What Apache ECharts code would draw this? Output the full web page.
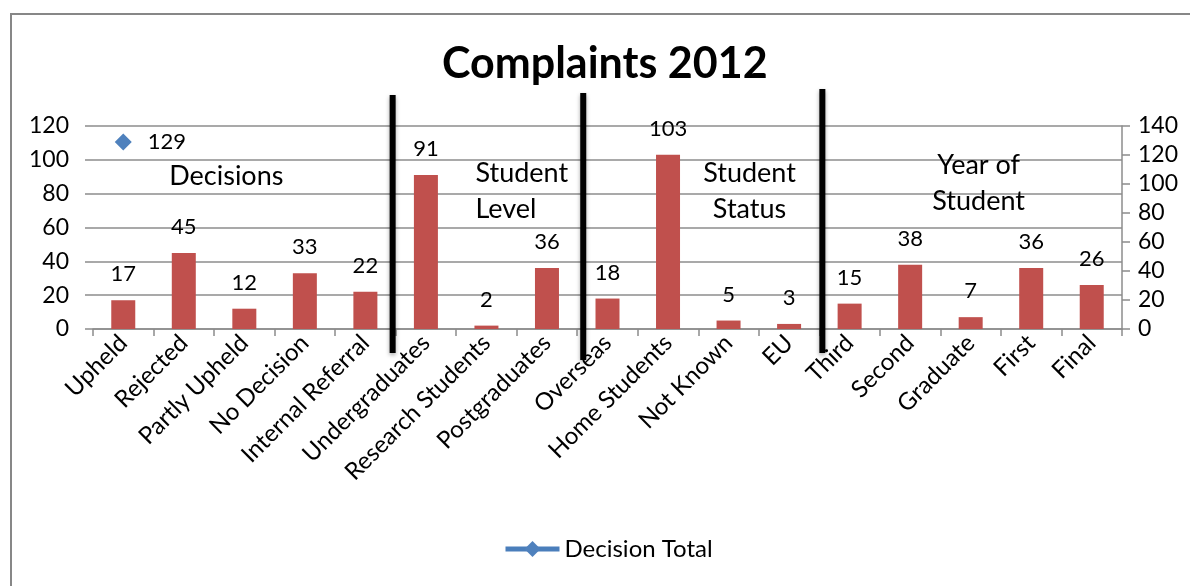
<!DOCTYPE html>
<html>
<head>
<meta charset="utf-8">
<script src="https://cdn.jsdelivr.net/npm/echarts@6/dist/echarts.min.js"></script>
<style>
html,body{margin:0;padding:0;background:#fff;}
#chart{width:1190px;height:586px;}
</style>
</head>
<body>
<div id="chart"></div>
<script>
const categories = ['Upheld','Rejected','Partly Upheld','No Decision','Internal Referral','Undergraduates','Research Students','Postgraduates','Overseas','Home Students','Not Known','EU','Third','Second','Graduate','First','Final'];
const complaintCounts = [17,45,12,33,22,91,2,36,18,103,5,3,15,38,7,36,26];
const decisionTotal = [129,null,null,null,null,null,null,null,null,null,null,null,null,null,null,null,null];
const leftTicks = {min:0, max:120, interval:20};
const rightTicks = {min:0, max:140, interval:20};
const groupBoundaries = [5, 8, 12];
const groupNames = ['Decisions', 'Student\nLevel', 'Student\nStatus', 'Year of\nStudent'];

const FONT = 'Lato, "Open Sans", sans-serif';
const chart = echarts.init(document.getElementById('chart'));
const option = {
  animation: false,
  backgroundColor: '#fff',
  textStyle: {fontFamily: FONT},
  title: {
    text: 'Complaints 2012',
    left: 437,
    top: 38,
    textStyle: {fontFamily: FONT, fontSize: 43, fontWeight: 'bold', color: '#000'}
  },
  legend: {
    bottom: 20,
    left: 498,
    itemWidth: 54,
    itemHeight: 20,
    itemGap: 4,
    lineStyle: {width: 5},
    textStyle: {fontFamily: FONT, fontSize: 24, color: '#000'},
    data: ['Decision Total']
  },
  grid: {left: 93, right: 68, top: 126, bottom: 257, containLabel: false},
  xAxis: {
    type: 'category',
    data: categories,
    axisLine: {lineStyle: {color: '#8c8c8c', width: 1.5}},
    axisTick: {show: true, length: 7, lineStyle: {color: '#8c8c8c', width: 1.5}},
    axisLabel: {rotate: 45, fontSize: 24, color: '#000', fontFamily: FONT, interval: 0, margin: 10}
  },
  yAxis: [
    {
      type: 'value', min: leftTicks.min, max: leftTicks.max, interval: leftTicks.interval,
      axisLine: {show: false},
      axisTick: {show: true, length: 8, lineStyle: {color: '#8c8c8c', width: 1.5}},
      splitLine: {lineStyle: {color: '#8c8c8c', width: 1.5}},
      axisLabel: {fontSize: 23, color: '#000', fontFamily: FONT, margin: 24}
    },
    {
      type: 'value', min: rightTicks.min, max: rightTicks.max, interval: rightTicks.interval,
      position: 'right',
      axisLine: {show: true, lineStyle: {color: '#8c8c8c', width: 1.5}},
      axisTick: {show: true, length: 8, lineStyle: {color: '#8c8c8c', width: 1.5}},
      splitLine: {show: false},
      axisLabel: {fontSize: 23, color: '#000', fontFamily: FONT, margin: 16}
    }
  ],
  series: [
    {
      name: 'Complaints',
      type: 'bar',
      data: complaintCounts,
      barWidth: 24,
      itemStyle: {color: '#C0504D'},
      label: {show: true, position: 'top', distance: 15, fontSize: 22, color: '#000', fontFamily: FONT}
    },
    {
      name: 'Decision Total',
      type: 'line',
      yAxisIndex: 1,
      data: decisionTotal,
      symbol: 'diamond',
      symbolSize: 17,
      lineStyle: {color: '#4A7EBB', width: 4},
      itemStyle: {color: '#4F81BD'},
      label: {show: true, position: 'right', distance: 16, fontSize: 22, color: '#000', fontFamily: FONT}
    }
  ]
};
chart.setOption(option);

function px(i){ return chart.convertToPixel({xAxisIndex:0}, i); }
const half = (px(1) - px(0)) / 2;
const lineTops = [95, 93, 89];
const lineBottoms = [353, 360, 353];
const lineShift = [-3, 6, 3];
const graphics = [{
  type: 'rect', shape: {x: 11, y: 14, width: 1200, height: 600},
  style: {fill: 'none', stroke: '#878787', lineWidth: 2}, z: 0, silent: true
}];
groupBoundaries.forEach((b, k) => {
  const x = px(b) - half + lineShift[k];
  graphics.push({
    type: 'line', shape: {x1: x, y1: lineTops[k], x2: x, y2: lineBottoms[k]},
    style: {stroke: '#000', lineWidth: 6, shadowBlur: 4, shadowColor: 'rgba(0,0,0,0.35)', shadowOffsetY: 2},
    z: 100
  });
});
const textPos = [
  {x: px(2) - 18, y: 176, align: 'center'},
  {x: px(6) - 11, y: 191, align: 'left'},
  {x: px(10) + 21, y: 191, align: 'center'},
  {x: px(14) + 8, y: 183, align: 'center'}
];
groupNames.forEach((t, k) => {
  graphics.push({
    type: 'text', x: textPos[k].x, y: textPos[k].y,
    style: {text: t, fontSize: 27, fontFamily: FONT, fill: '#000', align: textPos[k].align, verticalAlign: 'middle', lineHeight: 36},
    z: 100
  });
});
chart.setOption({graphic: graphics});
</script>
</body>
</html>
